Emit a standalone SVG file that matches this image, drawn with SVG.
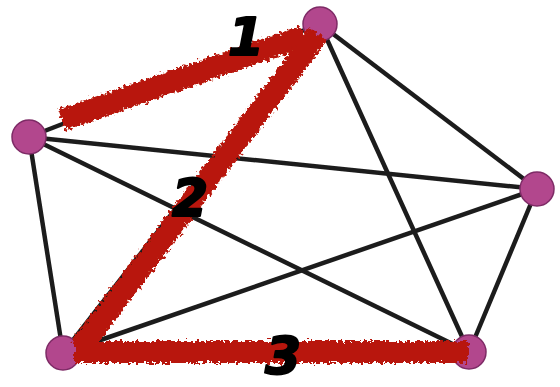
<svg xmlns="http://www.w3.org/2000/svg" width="560" height="387" viewBox="0 0 560 387">
<style>
.edge{stroke:#1c1c1c;stroke-width:4.5;stroke-linecap:round;fill:none}
.node{fill:#b2468d;stroke:#7e2c66;stroke-width:1.5}
.red{stroke:#b81608;stroke-width:22;stroke-linecap:butt;fill:none}
.num{font-family:"DejaVu Sans",sans-serif;font-weight:bold;font-style:italic;font-size:52px;fill:#000;stroke:#000;stroke-width:2;stroke-linejoin:round}
</style>
<defs>
<filter id="blur" x="-10%" y="-10%" width="120%" height="120%"><feGaussianBlur stdDeviation="0.6"/></filter>
<filter id="rough" x="-10%" y="-20%" width="120%" height="140%">
<feTurbulence type="fractalNoise" baseFrequency="0.3" numOctaves="2" seed="3" result="n"/>
<feDisplacementMap in="SourceGraphic" in2="n" scale="9" xChannelSelector="R" yChannelSelector="G"/>
</filter>
</defs>
<rect width="560" height="387" fill="#fff"/>
<g id="connectors" filter="url(#blur)">
<line class="edge" x1="320" y1="24" x2="29" y2="137"/>
<line class="edge" x1="320" y1="24" x2="63" y2="353"/>
<line class="edge" x1="320" y1="24" x2="537" y2="189"/>
<line class="edge" x1="320" y1="24" x2="469" y2="352"/>
<line class="edge" x1="29" y1="137" x2="537" y2="189"/>
<line class="edge" x1="29" y1="137" x2="469" y2="352"/>
<line class="edge" x1="29" y1="137" x2="63" y2="353"/>
<line class="edge" x1="537" y1="189" x2="63" y2="353"/>
<line class="edge" x1="537" y1="189" x2="469" y2="352"/>
<line class="edge" x1="63" y1="353" x2="469" y2="352"/>
</g>
<g id="node-top" filter="url(#blur)"><circle class="node" cx="320" cy="24" r="17"/></g>
<g id="node-left" filter="url(#blur)"><circle class="node" cx="29" cy="137" r="17"/></g>
<g id="node-right" filter="url(#blur)"><circle class="node" cx="537" cy="189" r="17"/></g>
<g id="node-bottom-left" filter="url(#blur)"><circle class="node" cx="63" cy="353" r="17"/></g>
<g id="node-bottom-right" filter="url(#blur)"><circle class="node" cx="469" cy="352" r="17"/></g>
<g id="highlights" filter="url(#rough)">
<line class="red" x1="62" y1="120" x2="304" y2="36"/>
<line class="red" x1="318" y1="34" x2="80" y2="348"/>
<line class="red" x1="75" y1="352" x2="468" y2="352"/>
</g>
<g id="labels">
<text class="num" x="228" y="55">1</text>
<text class="num" x="172" y="216">2</text>
<text class="num" x="265" y="374">3</text>
</g>
</svg>
